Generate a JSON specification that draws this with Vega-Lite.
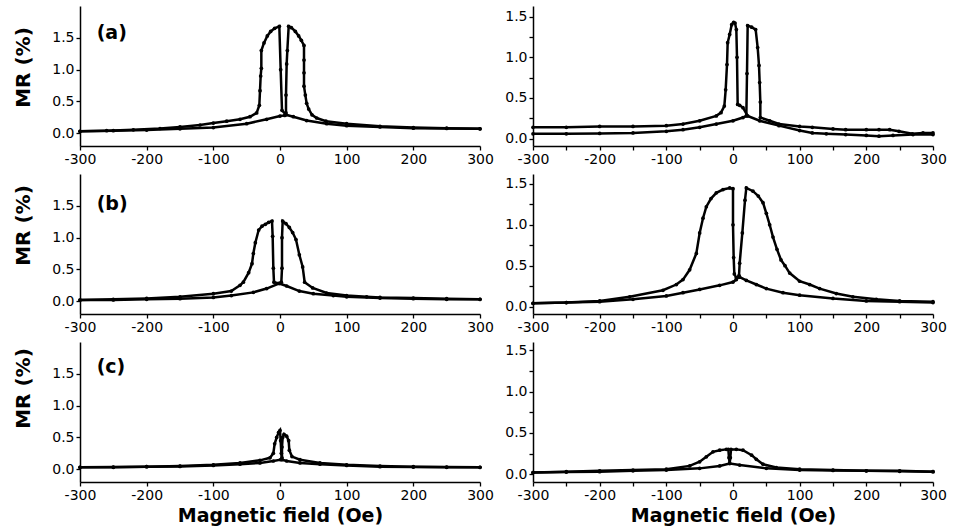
{
  "$schema": "https://vega.github.io/schema/vega-lite/v6.json",
  "padding": {"left": 13, "top": 6, "right": 5, "bottom": 5},
  "background": "white",
  "config": {
    "view": {"stroke": null},
    "font": "DejaVu Sans",
    "axis": {"grid": false, "domainColor": "black", "tickColor": "black", "labelColor": "black", "titleColor": "black", "labelFont": "DejaVu Sans", "labelFontSize": 14, "domainWidth": 1.5, "tickWidth": 1.3, "tickSize": 4, "labelPadding": 2, "titleFont": "DejaVu Sans", "titleFontWeight": "bold", "labelFlush": false, "labelOverlap": false}
  },
  "data": {"values": [
    {"panel":"a1","curve":1,"H":-300,"MR":0.03},{"panel":"a1","curve":1,"H":-260,"MR":0.04},{"panel":"a1","curve":1,"H":-220,"MR":0.055},{"panel":"a1","curve":1,"H":-180,"MR":0.075},{"panel":"a1","curve":1,"H":-150,"MR":0.1},{"panel":"a1","curve":1,"H":-120,"MR":0.13},{"panel":"a1","curve":1,"H":-100,"MR":0.16},{"panel":"a1","curve":1,"H":-80,"MR":0.19},{"panel":"a1","curve":1,"H":-60,"MR":0.22},{"panel":"a1","curve":1,"H":-45,"MR":0.26},{"panel":"a1","curve":1,"H":-35,"MR":0.32},{"panel":"a1","curve":1,"H":-31,"MR":0.44},{"panel":"a1","curve":1,"H":-30,"MR":0.67},{"panel":"a1","curve":1,"H":-29,"MR":0.9},{"panel":"a1","curve":1,"H":-28,"MR":1.02},{"panel":"a1","curve":1,"H":-28,"MR":1.3},{"panel":"a1","curve":1,"H":-24,"MR":1.42},{"panel":"a1","curve":1,"H":-19,"MR":1.53},{"panel":"a1","curve":1,"H":-14,"MR":1.6},{"panel":"a1","curve":1,"H":-8,"MR":1.65},{"panel":"a1","curve":1,"H":-1,"MR":1.68},{"panel":"a1","curve":1,"H":1,"MR":1.0},{"panel":"a1","curve":1,"H":3,"MR":0.36},{"panel":"a1","curve":1,"H":9,"MR":0.29},{"panel":"a1","curve":1,"H":20,"MR":0.26},{"panel":"a1","curve":1,"H":40,"MR":0.2},{"panel":"a1","curve":1,"H":70,"MR":0.15},{"panel":"a1","curve":1,"H":100,"MR":0.12},{"panel":"a1","curve":1,"H":150,"MR":0.1},{"panel":"a1","curve":1,"H":200,"MR":0.08},{"panel":"a1","curve":1,"H":250,"MR":0.075},{"panel":"a1","curve":1,"H":300,"MR":0.07},
    {"panel":"a1","curve":2,"H":300,"MR":0.07},{"panel":"a1","curve":2,"H":250,"MR":0.08},{"panel":"a1","curve":2,"H":200,"MR":0.09},{"panel":"a1","curve":2,"H":150,"MR":0.11},{"panel":"a1","curve":2,"H":100,"MR":0.15},{"panel":"a1","curve":2,"H":69,"MR":0.19},{"panel":"a1","curve":2,"H":55,"MR":0.24},{"panel":"a1","curve":2,"H":48,"MR":0.29},{"panel":"a1","curve":2,"H":43,"MR":0.38},{"panel":"a1","curve":2,"H":40,"MR":0.47},{"panel":"a1","curve":2,"H":38,"MR":0.6},{"panel":"a1","curve":2,"H":36,"MR":0.74},{"panel":"a1","curve":2,"H":36,"MR":0.95},{"panel":"a1","curve":2,"H":36,"MR":1.15},{"panel":"a1","curve":2,"H":36,"MR":1.38},{"panel":"a1","curve":2,"H":32,"MR":1.46},{"panel":"a1","curve":2,"H":28,"MR":1.53},{"panel":"a1","curve":2,"H":23,"MR":1.6},{"panel":"a1","curve":2,"H":17,"MR":1.66},{"panel":"a1","curve":2,"H":13,"MR":1.68},{"panel":"a1","curve":2,"H":11,"MR":1.3},{"panel":"a1","curve":2,"H":10,"MR":1.09},{"panel":"a1","curve":2,"H":9,"MR":0.6},{"panel":"a1","curve":2,"H":9,"MR":0.32},{"panel":"a1","curve":2,"H":7,"MR":0.28},{"panel":"a1","curve":2,"H":0,"MR":0.27},{"panel":"a1","curve":2,"H":-20,"MR":0.22},{"panel":"a1","curve":2,"H":-50,"MR":0.15},{"panel":"a1","curve":2,"H":-100,"MR":0.09},{"panel":"a1","curve":2,"H":-150,"MR":0.07},{"panel":"a1","curve":2,"H":-200,"MR":0.05},{"panel":"a1","curve":2,"H":-250,"MR":0.04},{"panel":"a1","curve":2,"H":-300,"MR":0.03},

    {"panel":"a2","curve":1,"H":-300,"MR":0.06},{"panel":"a2","curve":1,"H":-250,"MR":0.06},{"panel":"a2","curve":1,"H":-200,"MR":0.065},{"panel":"a2","curve":1,"H":-150,"MR":0.07},{"panel":"a2","curve":1,"H":-100,"MR":0.09},{"panel":"a2","curve":1,"H":-75,"MR":0.11},{"panel":"a2","curve":1,"H":-50,"MR":0.14},{"panel":"a2","curve":1,"H":-25,"MR":0.18},{"panel":"a2","curve":1,"H":0,"MR":0.22},{"panel":"a2","curve":1,"H":15,"MR":0.26},{"panel":"a2","curve":1,"H":20,"MR":0.28},{"panel":"a2","curve":1,"H":21,"MR":0.8},{"panel":"a2","curve":1,"H":22,"MR":1.39},{"panel":"a2","curve":1,"H":28,"MR":1.37},{"panel":"a2","curve":1,"H":34,"MR":1.34},{"panel":"a2","curve":1,"H":37,"MR":1.12},{"panel":"a2","curve":1,"H":39,"MR":0.9},{"panel":"a2","curve":1,"H":40,"MR":0.69},{"panel":"a2","curve":1,"H":41,"MR":0.45},{"panel":"a2","curve":1,"H":41,"MR":0.26},{"panel":"a2","curve":1,"H":55,"MR":0.22},{"panel":"a2","curve":1,"H":69,"MR":0.18},{"panel":"a2","curve":1,"H":100,"MR":0.15},{"panel":"a2","curve":1,"H":119,"MR":0.14},{"panel":"a2","curve":1,"H":150,"MR":0.12},{"panel":"a2","curve":1,"H":169,"MR":0.11},{"panel":"a2","curve":1,"H":200,"MR":0.11},{"panel":"a2","curve":1,"H":219,"MR":0.11},{"panel":"a2","curve":1,"H":235,"MR":0.11},{"panel":"a2","curve":1,"H":249,"MR":0.09},{"panel":"a2","curve":1,"H":269,"MR":0.06},{"panel":"a2","curve":1,"H":285,"MR":0.07},{"panel":"a2","curve":1,"H":300,"MR":0.07},
    {"panel":"a2","curve":2,"H":300,"MR":0.05},{"panel":"a2","curve":2,"H":270,"MR":0.05},{"panel":"a2","curve":2,"H":240,"MR":0.04},{"panel":"a2","curve":2,"H":219,"MR":0.03},{"panel":"a2","curve":2,"H":200,"MR":0.04},{"panel":"a2","curve":2,"H":169,"MR":0.05},{"panel":"a2","curve":2,"H":140,"MR":0.06},{"panel":"a2","curve":2,"H":119,"MR":0.07},{"panel":"a2","curve":2,"H":100,"MR":0.1},{"panel":"a2","curve":2,"H":69,"MR":0.16},{"panel":"a2","curve":2,"H":40,"MR":0.22},{"panel":"a2","curve":2,"H":22,"MR":0.28},{"panel":"a2","curve":2,"H":15,"MR":0.38},{"panel":"a2","curve":2,"H":10,"MR":0.41},{"panel":"a2","curve":2,"H":7,"MR":0.42},{"panel":"a2","curve":2,"H":6,"MR":1.0},{"panel":"a2","curve":2,"H":5,"MR":1.34},{"panel":"a2","curve":2,"H":3,"MR":1.42},{"panel":"a2","curve":2,"H":1,"MR":1.43},{"panel":"a2","curve":2,"H":-2,"MR":1.4},{"panel":"a2","curve":2,"H":-5,"MR":1.28},{"panel":"a2","curve":2,"H":-8,"MR":1.18},{"panel":"a2","curve":2,"H":-9,"MR":0.91},{"panel":"a2","curve":2,"H":-11,"MR":0.6},{"panel":"a2","curve":2,"H":-13,"MR":0.4},{"panel":"a2","curve":2,"H":-18,"MR":0.32},{"panel":"a2","curve":2,"H":-25,"MR":0.28},{"panel":"a2","curve":2,"H":-50,"MR":0.22},{"panel":"a2","curve":2,"H":-75,"MR":0.18},{"panel":"a2","curve":2,"H":-100,"MR":0.16},{"panel":"a2","curve":2,"H":-150,"MR":0.15},{"panel":"a2","curve":2,"H":-200,"MR":0.15},{"panel":"a2","curve":2,"H":-250,"MR":0.14},{"panel":"a2","curve":2,"H":-300,"MR":0.14},

    {"panel":"b1","curve":1,"H":-300,"MR":0.02},{"panel":"b1","curve":1,"H":-250,"MR":0.03},{"panel":"b1","curve":1,"H":-200,"MR":0.045},{"panel":"b1","curve":1,"H":-150,"MR":0.07},{"panel":"b1","curve":1,"H":-100,"MR":0.12},{"panel":"b1","curve":1,"H":-73,"MR":0.16},{"panel":"b1","curve":1,"H":-60,"MR":0.25},{"panel":"b1","curve":1,"H":-55,"MR":0.3},{"panel":"b1","curve":1,"H":-47,"MR":0.45},{"panel":"b1","curve":1,"H":-42,"MR":0.59},{"panel":"b1","curve":1,"H":-40,"MR":0.75},{"panel":"b1","curve":1,"H":-37,"MR":0.92},{"panel":"b1","curve":1,"H":-32,"MR":1.12},{"panel":"b1","curve":1,"H":-27,"MR":1.18},{"panel":"b1","curve":1,"H":-22,"MR":1.21},{"panel":"b1","curve":1,"H":-17,"MR":1.24},{"panel":"b1","curve":1,"H":-12,"MR":1.26},{"panel":"b1","curve":1,"H":-11,"MR":1.02},{"panel":"b1","curve":1,"H":-10,"MR":0.52},{"panel":"b1","curve":1,"H":-9,"MR":0.3},{"panel":"b1","curve":1,"H":-1,"MR":0.28},{"panel":"b1","curve":1,"H":10,"MR":0.24},{"panel":"b1","curve":1,"H":29,"MR":0.16},{"panel":"b1","curve":1,"H":50,"MR":0.12},{"panel":"b1","curve":1,"H":80,"MR":0.09},{"panel":"b1","curve":1,"H":100,"MR":0.07},{"panel":"b1","curve":1,"H":150,"MR":0.05},{"panel":"b1","curve":1,"H":200,"MR":0.04},{"panel":"b1","curve":1,"H":250,"MR":0.03},{"panel":"b1","curve":1,"H":300,"MR":0.03},
    {"panel":"b1","curve":2,"H":300,"MR":0.03},{"panel":"b1","curve":2,"H":250,"MR":0.04},{"panel":"b1","curve":2,"H":200,"MR":0.05},{"panel":"b1","curve":2,"H":150,"MR":0.06},{"panel":"b1","curve":2,"H":130,"MR":0.07},{"panel":"b1","curve":2,"H":100,"MR":0.09},{"panel":"b1","curve":2,"H":70,"MR":0.13},{"panel":"b1","curve":2,"H":49,"MR":0.21},{"panel":"b1","curve":2,"H":37,"MR":0.3},{"panel":"b1","curve":2,"H":34,"MR":0.54},{"panel":"b1","curve":2,"H":29,"MR":0.73},{"panel":"b1","curve":2,"H":24,"MR":0.97},{"panel":"b1","curve":2,"H":19,"MR":1.08},{"panel":"b1","curve":2,"H":14,"MR":1.16},{"panel":"b1","curve":2,"H":9,"MR":1.22},{"panel":"b1","curve":2,"H":4,"MR":1.26},{"panel":"b1","curve":2,"H":3,"MR":1.0},{"panel":"b1","curve":2,"H":3,"MR":0.52},{"panel":"b1","curve":2,"H":2,"MR":0.3},{"panel":"b1","curve":2,"H":-1,"MR":0.28},{"panel":"b1","curve":2,"H":-20,"MR":0.2},{"panel":"b1","curve":2,"H":-40,"MR":0.14},{"panel":"b1","curve":2,"H":-73,"MR":0.09},{"panel":"b1","curve":2,"H":-100,"MR":0.06},{"panel":"b1","curve":2,"H":-150,"MR":0.04},{"panel":"b1","curve":2,"H":-200,"MR":0.03},{"panel":"b1","curve":2,"H":-250,"MR":0.02},{"panel":"b1","curve":2,"H":-300,"MR":0.02},

    {"panel":"b2","curve":1,"H":-300,"MR":0.04},{"panel":"b2","curve":1,"H":-250,"MR":0.05},{"panel":"b2","curve":1,"H":-200,"MR":0.07},{"panel":"b2","curve":1,"H":-155,"MR":0.12},{"panel":"b2","curve":1,"H":-105,"MR":0.2},{"panel":"b2","curve":1,"H":-85,"MR":0.27},{"panel":"b2","curve":1,"H":-75,"MR":0.33},{"panel":"b2","curve":1,"H":-65,"MR":0.45},{"panel":"b2","curve":1,"H":-55,"MR":0.65},{"panel":"b2","curve":1,"H":-50,"MR":0.9},{"panel":"b2","curve":1,"H":-45,"MR":1.08},{"panel":"b2","curve":1,"H":-40,"MR":1.22},{"panel":"b2","curve":1,"H":-33,"MR":1.32},{"panel":"b2","curve":1,"H":-25,"MR":1.39},{"panel":"b2","curve":1,"H":-15,"MR":1.43},{"panel":"b2","curve":1,"H":-5,"MR":1.45},{"panel":"b2","curve":1,"H":0,"MR":1.44},{"panel":"b2","curve":1,"H":0,"MR":1.0},{"panel":"b2","curve":1,"H":1,"MR":0.6},{"panel":"b2","curve":1,"H":2,"MR":0.4},{"panel":"b2","curve":1,"H":5,"MR":0.35},{"panel":"b2","curve":1,"H":10,"MR":0.36},{"panel":"b2","curve":1,"H":20,"MR":0.32},{"panel":"b2","curve":1,"H":35,"MR":0.27},{"panel":"b2","curve":1,"H":50,"MR":0.22},{"panel":"b2","curve":1,"H":75,"MR":0.17},{"panel":"b2","curve":1,"H":100,"MR":0.14},{"panel":"b2","curve":1,"H":150,"MR":0.1},{"panel":"b2","curve":1,"H":200,"MR":0.07},{"panel":"b2","curve":1,"H":250,"MR":0.06},{"panel":"b2","curve":1,"H":300,"MR":0.05},
    {"panel":"b2","curve":2,"H":300,"MR":0.06},{"panel":"b2","curve":2,"H":250,"MR":0.07},{"panel":"b2","curve":2,"H":215,"MR":0.09},{"panel":"b2","curve":2,"H":180,"MR":0.12},{"panel":"b2","curve":2,"H":155,"MR":0.16},{"panel":"b2","curve":2,"H":130,"MR":0.22},{"panel":"b2","curve":2,"H":115,"MR":0.27},{"panel":"b2","curve":2,"H":100,"MR":0.31},{"panel":"b2","curve":2,"H":85,"MR":0.41},{"panel":"b2","curve":2,"H":78,"MR":0.5},{"panel":"b2","curve":2,"H":72,"MR":0.57},{"panel":"b2","curve":2,"H":66,"MR":0.7},{"panel":"b2","curve":2,"H":60,"MR":0.85},{"panel":"b2","curve":2,"H":55,"MR":1.0},{"panel":"b2","curve":2,"H":50,"MR":1.14},{"panel":"b2","curve":2,"H":45,"MR":1.27},{"panel":"b2","curve":2,"H":38,"MR":1.35},{"panel":"b2","curve":2,"H":30,"MR":1.41},{"panel":"b2","curve":2,"H":20,"MR":1.45},{"panel":"b2","curve":2,"H":18,"MR":1.3},{"panel":"b2","curve":2,"H":14,"MR":0.9},{"panel":"b2","curve":2,"H":10,"MR":0.53},{"panel":"b2","curve":2,"H":9,"MR":0.38},{"panel":"b2","curve":2,"H":5,"MR":0.33},{"panel":"b2","curve":2,"H":0,"MR":0.3},{"panel":"b2","curve":2,"H":-20,"MR":0.26},{"panel":"b2","curve":2,"H":-50,"MR":0.21},{"panel":"b2","curve":2,"H":-75,"MR":0.17},{"panel":"b2","curve":2,"H":-100,"MR":0.13},{"panel":"b2","curve":2,"H":-150,"MR":0.09},{"panel":"b2","curve":2,"H":-200,"MR":0.06},{"panel":"b2","curve":2,"H":-250,"MR":0.05},{"panel":"b2","curve":2,"H":-300,"MR":0.04},

    {"panel":"c1","curve":1,"H":-300,"MR":0.03},{"panel":"c1","curve":1,"H":-250,"MR":0.035},{"panel":"c1","curve":1,"H":-200,"MR":0.04},{"panel":"c1","curve":1,"H":-150,"MR":0.05},{"panel":"c1","curve":1,"H":-100,"MR":0.07},{"panel":"c1","curve":1,"H":-60,"MR":0.1},{"panel":"c1","curve":1,"H":-30,"MR":0.14},{"panel":"c1","curve":1,"H":-15,"MR":0.18},{"panel":"c1","curve":1,"H":-10,"MR":0.25},{"panel":"c1","curve":1,"H":-8,"MR":0.4},{"panel":"c1","curve":1,"H":-5,"MR":0.5},{"panel":"c1","curve":1,"H":-2,"MR":0.58},{"panel":"c1","curve":1,"H":0,"MR":0.61},{"panel":"c1","curve":1,"H":1,"MR":0.45},{"panel":"c1","curve":1,"H":2,"MR":0.25},{"panel":"c1","curve":1,"H":3,"MR":0.15},{"panel":"c1","curve":1,"H":10,"MR":0.13},{"panel":"c1","curve":1,"H":30,"MR":0.1},{"panel":"c1","curve":1,"H":60,"MR":0.08},{"panel":"c1","curve":1,"H":100,"MR":0.06},{"panel":"c1","curve":1,"H":150,"MR":0.04},{"panel":"c1","curve":1,"H":200,"MR":0.035},{"panel":"c1","curve":1,"H":250,"MR":0.03},{"panel":"c1","curve":1,"H":300,"MR":0.03},
    {"panel":"c1","curve":2,"H":300,"MR":0.03},{"panel":"c1","curve":2,"H":250,"MR":0.035},{"panel":"c1","curve":2,"H":200,"MR":0.04},{"panel":"c1","curve":2,"H":150,"MR":0.05},{"panel":"c1","curve":2,"H":100,"MR":0.07},{"panel":"c1","curve":2,"H":60,"MR":0.1},{"panel":"c1","curve":2,"H":30,"MR":0.15},{"panel":"c1","curve":2,"H":18,"MR":0.2},{"panel":"c1","curve":2,"H":14,"MR":0.3},{"panel":"c1","curve":2,"H":13,"MR":0.45},{"panel":"c1","curve":2,"H":10,"MR":0.52},{"panel":"c1","curve":2,"H":6,"MR":0.55},{"panel":"c1","curve":2,"H":4,"MR":0.5},{"panel":"c1","curve":2,"H":3,"MR":0.35},{"panel":"c1","curve":2,"H":3,"MR":0.18},{"panel":"c1","curve":2,"H":1,"MR":0.15},{"panel":"c1","curve":2,"H":-10,"MR":0.13},{"panel":"c1","curve":2,"H":-30,"MR":0.1},{"panel":"c1","curve":2,"H":-60,"MR":0.08},{"panel":"c1","curve":2,"H":-100,"MR":0.06},{"panel":"c1","curve":2,"H":-150,"MR":0.045},{"panel":"c1","curve":2,"H":-200,"MR":0.04},{"panel":"c1","curve":2,"H":-250,"MR":0.03},{"panel":"c1","curve":2,"H":-300,"MR":0.03},

    {"panel":"c2","curve":1,"H":-300,"MR":0.02},{"panel":"c2","curve":1,"H":-250,"MR":0.03},{"panel":"c2","curve":1,"H":-200,"MR":0.04},{"panel":"c2","curve":1,"H":-150,"MR":0.05},{"panel":"c2","curve":1,"H":-100,"MR":0.06},{"panel":"c2","curve":1,"H":-65,"MR":0.1},{"panel":"c2","curve":1,"H":-50,"MR":0.15},{"panel":"c2","curve":1,"H":-40,"MR":0.21},{"panel":"c2","curve":1,"H":-30,"MR":0.27},{"panel":"c2","curve":1,"H":-20,"MR":0.29},{"panel":"c2","curve":1,"H":-10,"MR":0.3},{"panel":"c2","curve":1,"H":-7,"MR":0.3},{"panel":"c2","curve":1,"H":-6,"MR":0.2},{"panel":"c2","curve":1,"H":-5,"MR":0.13},{"panel":"c2","curve":1,"H":10,"MR":0.11},{"panel":"c2","curve":1,"H":50,"MR":0.07},{"panel":"c2","curve":1,"H":100,"MR":0.05},{"panel":"c2","curve":1,"H":150,"MR":0.045},{"panel":"c2","curve":1,"H":200,"MR":0.04},{"panel":"c2","curve":1,"H":250,"MR":0.035},{"panel":"c2","curve":1,"H":300,"MR":0.03},
    {"panel":"c2","curve":2,"H":300,"MR":0.03},{"panel":"c2","curve":2,"H":250,"MR":0.04},{"panel":"c2","curve":2,"H":200,"MR":0.04},{"panel":"c2","curve":2,"H":150,"MR":0.05},{"panel":"c2","curve":2,"H":100,"MR":0.06},{"panel":"c2","curve":2,"H":65,"MR":0.08},{"panel":"c2","curve":2,"H":45,"MR":0.12},{"panel":"c2","curve":2,"H":35,"MR":0.18},{"panel":"c2","curve":2,"H":28,"MR":0.23},{"panel":"c2","curve":2,"H":15,"MR":0.29},{"panel":"c2","curve":2,"H":5,"MR":0.3},{"panel":"c2","curve":2,"H":-3,"MR":0.3},{"panel":"c2","curve":2,"H":-4,"MR":0.2},{"panel":"c2","curve":2,"H":-5,"MR":0.13},{"panel":"c2","curve":2,"H":-20,"MR":0.1},{"panel":"c2","curve":2,"H":-50,"MR":0.07},{"panel":"c2","curve":2,"H":-100,"MR":0.05},{"panel":"c2","curve":2,"H":-150,"MR":0.04},{"panel":"c2","curve":2,"H":-200,"MR":0.03},{"panel":"c2","curve":2,"H":-250,"MR":0.025},{"panel":"c2","curve":2,"H":-300,"MR":0.02}
  ]},
  "columns": 2,
  "bounds": "flush",
  "spacing": {"row": 28, "column": 53},
  "concat": [
    {"width": 400, "height": 140, "layer": [
      {"transform": [{"filter": "datum.panel === 'a1'"}],
       "mark": {"type": "line", "color": "black", "strokeWidth": 2.5, "point": {"filled": true, "size": 14, "color": "black"}},
       "encoding": {
         "x": {"field": "H", "type": "quantitative", "scale": {"domain": [-300, 300]}, "axis": {"title": null, "values": [-300,-250,-200,-150,-100,-50,0,50,100,150,200,250,300], "labelExpr": "datum.value % 100 === 0 ? (datum.value < 0 ? '-' + abs(datum.value) : '' + datum.value) : ''"}},
         "y": {"field": "MR", "type": "quantitative", "scale": {"domain": [-0.2, 1.9]}, "axis": {"title": "MR (%)", "titleFontSize": 20, "titlePadding": 18, "titleY": 61, "values": [0,0.25,0.5,0.75,1,1.25,1.5,1.75], "labelExpr": "(datum.value * 2) % 1 === 0 ? format(datum.value, '.1f') : ''"}},
         "detail": {"field": "curve"},
         "order": {"value": null}}},
      {"data": {"values": [{}]}, "mark": {"type": "text", "fontSize": 19, "fontWeight": "bold", "align": "left", "baseline": "middle", "font": "DejaVu Sans"},
       "encoding": {"x": {"datum": -275}, "y": {"datum": 1.58}, "text": {"value": "(a)"}}}
    ]},
    {"width": 400, "height": 140, "layer": [
      {"transform": [{"filter": "datum.panel === 'a2'"}],
       "mark": {"type": "line", "color": "black", "strokeWidth": 2.5, "point": {"filled": true, "size": 14, "color": "black"}},
       "encoding": {
         "x": {"field": "H", "type": "quantitative", "scale": {"domain": [-300, 300]}, "axis": {"title": null, "values": [-300,-250,-200,-150,-100,-50,0,50,100,150,200,250,300], "labelExpr": "datum.value % 100 === 0 ? (datum.value < 0 ? '-' + abs(datum.value) : '' + datum.value) : ''"}},
         "y": {"field": "MR", "type": "quantitative", "scale": {"domain": [-0.09, 1.63]}, "axis": {"title": null, "values": [0,0.25,0.5,0.75,1,1.25,1.5], "labelExpr": "(datum.value * 2) % 1 === 0 ? format(datum.value, '.1f') : ''"}},
         "detail": {"field": "curve"},
         "order": {"value": null}}}
    ]},
    {"width": 400, "height": 140, "layer": [
      {"transform": [{"filter": "datum.panel === 'b1'"}],
       "mark": {"type": "line", "color": "black", "strokeWidth": 2.5, "point": {"filled": true, "size": 14, "color": "black"}},
       "encoding": {
         "x": {"field": "H", "type": "quantitative", "scale": {"domain": [-300, 300]}, "axis": {"title": null, "values": [-300,-250,-200,-150,-100,-50,0,50,100,150,200,250,300], "labelExpr": "datum.value % 100 === 0 ? (datum.value < 0 ? '-' + abs(datum.value) : '' + datum.value) : ''"}},
         "y": {"field": "MR", "type": "quantitative", "scale": {"domain": [-0.11, 1.9]}, "axis": {"title": "MR (%)", "titleFontSize": 20, "titlePadding": 18, "titleY": 51, "values": [0,0.25,0.5,0.75,1,1.25,1.5,1.75], "labelExpr": "(datum.value * 2) % 1 === 0 ? format(datum.value, '.1f') : ''"}},
         "detail": {"field": "curve"},
         "order": {"value": null}}},
      {"data": {"values": [{}]}, "mark": {"type": "text", "fontSize": 19, "fontWeight": "bold", "align": "left", "baseline": "middle", "font": "DejaVu Sans"},
       "encoding": {"x": {"datum": -275}, "y": {"datum": 1.53}, "text": {"value": "(b)"}}}
    ]},
    {"width": 400, "height": 140, "layer": [
      {"transform": [{"filter": "datum.panel === 'b2'"}],
       "mark": {"type": "line", "color": "black", "strokeWidth": 2.5, "point": {"filled": true, "size": 14, "color": "black"}},
       "encoding": {
         "x": {"field": "H", "type": "quantitative", "scale": {"domain": [-300, 300]}, "axis": {"title": null, "values": [-300,-250,-200,-150,-100,-50,0,50,100,150,200,250,300], "labelExpr": "datum.value % 100 === 0 ? (datum.value < 0 ? '-' + abs(datum.value) : '' + datum.value) : ''"}},
         "y": {"field": "MR", "type": "quantitative", "scale": {"domain": [-0.09, 1.62]}, "axis": {"title": null, "values": [0,0.25,0.5,0.75,1,1.25,1.5], "labelExpr": "(datum.value * 2) % 1 === 0 ? format(datum.value, '.1f') : ''"}},
         "detail": {"field": "curve"},
         "order": {"value": null}}}
    ]},
    {"width": 400, "height": 140, "layer": [
      {"transform": [{"filter": "datum.panel === 'c1'"}],
       "mark": {"type": "line", "color": "black", "strokeWidth": 2.5, "point": {"filled": true, "size": 14, "color": "black"}},
       "encoding": {
         "x": {"field": "H", "type": "quantitative", "scale": {"domain": [-300, 300]}, "axis": {"title": "Magnetic field (Oe)", "titleFontSize": 19, "titlePadding": 4, "values": [-300,-250,-200,-150,-100,-50,0,50,100,150,200,250,300], "labelExpr": "datum.value % 100 === 0 ? (datum.value < 0 ? '-' + abs(datum.value) : '' + datum.value) : ''"}},
         "y": {"field": "MR", "type": "quantitative", "scale": {"domain": [-0.12, 1.91]}, "axis": {"title": "MR (%)", "titleFontSize": 20, "titlePadding": 18, "titleY": 46, "values": [0,0.25,0.5,0.75,1,1.25,1.5,1.75], "labelExpr": "(datum.value * 2) % 1 === 0 ? format(datum.value, '.1f') : ''"}},
         "detail": {"field": "curve"},
         "order": {"value": null}}},
      {"data": {"values": [{}]}, "mark": {"type": "text", "fontSize": 19, "fontWeight": "bold", "align": "left", "baseline": "middle", "font": "DejaVu Sans"},
       "encoding": {"x": {"datum": -275}, "y": {"datum": 1.6}, "text": {"value": "(c)"}}}
    ]},
    {"width": 400, "height": 140, "layer": [
      {"transform": [{"filter": "datum.panel === 'c2'"}],
       "mark": {"type": "line", "color": "black", "strokeWidth": 2.5, "point": {"filled": true, "size": 14, "color": "black"}},
       "encoding": {
         "x": {"field": "H", "type": "quantitative", "scale": {"domain": [-300, 300]}, "axis": {"title": "Magnetic field (Oe)", "titleFontSize": 19, "titlePadding": 4, "values": [-300,-250,-200,-150,-100,-50,0,50,100,150,200,250,300], "labelExpr": "datum.value % 100 === 0 ? (datum.value < 0 ? '-' + abs(datum.value) : '' + datum.value) : ''"}},
         "y": {"field": "MR", "type": "quantitative", "scale": {"domain": [-0.095, 1.6]}, "axis": {"title": null, "values": [0,0.25,0.5,0.75,1,1.25,1.5], "labelExpr": "(datum.value * 2) % 1 === 0 ? format(datum.value, '.1f') : ''"}},
         "detail": {"field": "curve"},
         "order": {"value": null}}}
    ]}
  ]
}
